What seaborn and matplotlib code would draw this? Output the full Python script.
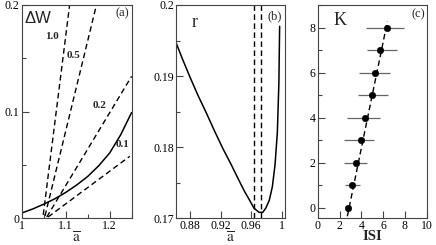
import numpy as np
import matplotlib
matplotlib.use("Agg")
import matplotlib.pyplot as plt
import seaborn as sns
from matplotlib.ticker import MultipleLocator

# panel (a): solid curve and dashed lines labelled by parameter
a_solid = [1.0, 1.025, 1.05, 1.075, 1.1, 1.125, 1.15, 1.175, 1.2, 1.225, 1.25]
dw_solid = [0.0047, 0.0085, 0.013, 0.018, 0.024, 0.031, 0.039, 0.049, 0.061, 0.078, 0.099]
dash_labels = ["1.0", "0.5", "0.2", "0.1"]
dash_a = [[1.049, 1.109], [1.053, 1.17], [1.057, 1.25], [1.060, 1.246]]
dash_dw = [[0.003, 0.2], [0.002, 0.2], [0.001, 0.133], [0.001, 0.058]]
label_pos = [(1.068, 0.170), (1.117, 0.153), (1.177, 0.106), (1.230, 0.069)]

# panel (b): r versus a-bar
a_r = [0.8606, 0.870, 0.880, 0.8905, 0.9015, 0.912, 0.923, 0.934, 0.9445, 0.951, 0.9574,
       0.9635, 0.9703, 0.975, 0.979, 0.9835, 0.9875, 0.991, 0.994, 0.996, 0.997]
r_vals = [0.1951, 0.1925, 0.1899, 0.1873, 0.1848, 0.1823, 0.1798, 0.1775, 0.1752, 0.1738, 0.1726,
          0.1714, 0.1708, 0.1708, 0.1714, 0.1725, 0.1744, 0.1775, 0.1820, 0.1890, 0.1970]
r_vlines = [0.964, 0.973]

# panel (c): K versus ISI with horizontal error bars
K = [0, 1, 2, 3, 4, 5, 6, 7, 8]
isi = [2.75, 3.12, 3.49, 3.94, 4.37, 4.95, 5.26, 5.72, 6.33]
isi_lo = [2.75, 2.50, 2.42, 2.42, 2.72, 3.67, 3.82, 4.56, 4.43]
isi_hi = [2.75, 3.88, 4.56, 5.17, 5.72, 6.48, 6.64, 7.31, 7.92]
fit_isi = [2.72, 6.39]
fit_K = [-0.37, 8.27]

sns.set_theme(style="ticks")
plt.rcParams["font.family"] = ["Liberation Serif", "DejaVu Serif"]
plt.rcParams["mathtext.fontset"] = "stix"
plt.rcParams["xtick.direction"] = "in"
plt.rcParams["ytick.direction"] = "in"
plt.rcParams["xtick.labelsize"] = 8.5
plt.rcParams["ytick.labelsize"] = 8.5
plt.rcParams["axes.edgecolor"] = "#444444"
plt.rcParams["axes.linewidth"] = 0.8
plt.rcParams["xtick.color"] = "#444444"
plt.rcParams["ytick.color"] = "#444444"
plt.rcParams["xtick.labelcolor"] = "black"
plt.rcParams["ytick.labelcolor"] = "black"

fig = plt.figure(figsize=(4.36, 2.45), dpi=100)
bot, top = 0.110, 0.9796
ax1 = fig.add_axes([0.0498, bot, 0.252, top - bot])
ax2 = fig.add_axes([0.4037, bot, 0.250, top - bot])
ax3 = fig.add_axes([0.7287, bot, 0.250, top - bot])
dash = (0, (4, 2.5))
fmt = plt.FuncFormatter(lambda v, p: f"{v:g}")

# (a)
sns.lineplot(x=a_solid, y=dw_solid, ax=ax1, color="black", lw=1.1)
for xs, ys in zip(dash_a, dash_dw):
    sns.lineplot(x=xs, y=ys, ax=ax1, color="black", lw=1.0, linestyle=dash)
for lab, (px, py) in zip(dash_labels, label_pos):
    ax1.text(px, py, lab, fontsize=8, fontweight="bold", ha="center", va="center")
ax1.text(1.038, 0.1875, "ΔW", fontsize=12, family="Liberation Sans", ha="center", va="center")
ax1.text(1.230, 0.192, "(a)", fontsize=9, ha="center", va="center")
ax1.set_xlim(1.0, 1.25)
ax1.set_ylim(0, 0.2)
ax1.xaxis.set_major_locator(MultipleLocator(0.1))
ax1.xaxis.set_minor_locator(MultipleLocator(0.05))
ax1.yaxis.set_major_locator(MultipleLocator(0.1))
ax1.yaxis.set_minor_locator(MultipleLocator(0.05))
ax1.xaxis.set_major_formatter(fmt)
ax1.yaxis.set_major_formatter(fmt)
ax1.set_xlabel(r"$\overline{\mathrm{a}}$", fontsize=11)

# (b)
sns.lineplot(x=a_r, y=r_vals, ax=ax2, color="black", lw=1.1, sort=False)
for xv in r_vlines:
    ax2.axvline(xv, color="black", lw=1.0, linestyle=dash)
ax2.text(0.886, 0.1975, "r", fontsize=13, ha="center", va="center")
ax2.text(0.990, 0.1984, "(b)", fontsize=9, ha="center", va="center")
ax2.set_xlim(0.862, 1.004)
ax2.set_ylim(0.17, 0.2)
ax2.set_xticks([0.88, 0.92, 0.96, 1.0])
ax2.yaxis.set_major_locator(MultipleLocator(0.01))
ax2.yaxis.set_minor_locator(MultipleLocator(0.005))
ax2.xaxis.set_major_formatter(fmt)
ax2.yaxis.set_major_formatter(fmt)
ax2.set_xlabel(r"$\overline{\mathrm{a}}$", fontsize=11)

# (c)
ax3.hlines(K, isi_lo, isi_hi, color="#666666", lw=0.9)
sns.lineplot(x=fit_isi, y=fit_K, ax=ax3, color="black", lw=1.0, linestyle=dash)
sns.scatterplot(x=isi, y=K, ax=ax3, color="black", s=22, edgecolor="black", zorder=3)
ax3.text(2.05, 8.3, "K", fontsize=13, ha="center", va="center")
ax3.text(9.2, 8.6, "(c)", fontsize=9, ha="center", va="center")
ax3.set_xlim(0, 10)
ax3.set_ylim(-0.45, 9)
ax3.xaxis.set_major_locator(MultipleLocator(2))
ax3.yaxis.set_major_locator(MultipleLocator(2))
ax3.yaxis.set_minor_locator(MultipleLocator(1))
ax3.set_xlabel("ISI", fontsize=10.5, fontweight="bold")

for ax in (ax1, ax2, ax3):
    ax.set_ylabel("")
    ax.tick_params(which="major", length=5, width=0.8, pad=1.5)
    ax.tick_params(which="minor", length=3, width=0.8)
    ax.xaxis.set_label_coords(0.5, -0.058)
    ax.xaxis.label.set_va("top")

fig.savefig("out.png", dpi=100)
